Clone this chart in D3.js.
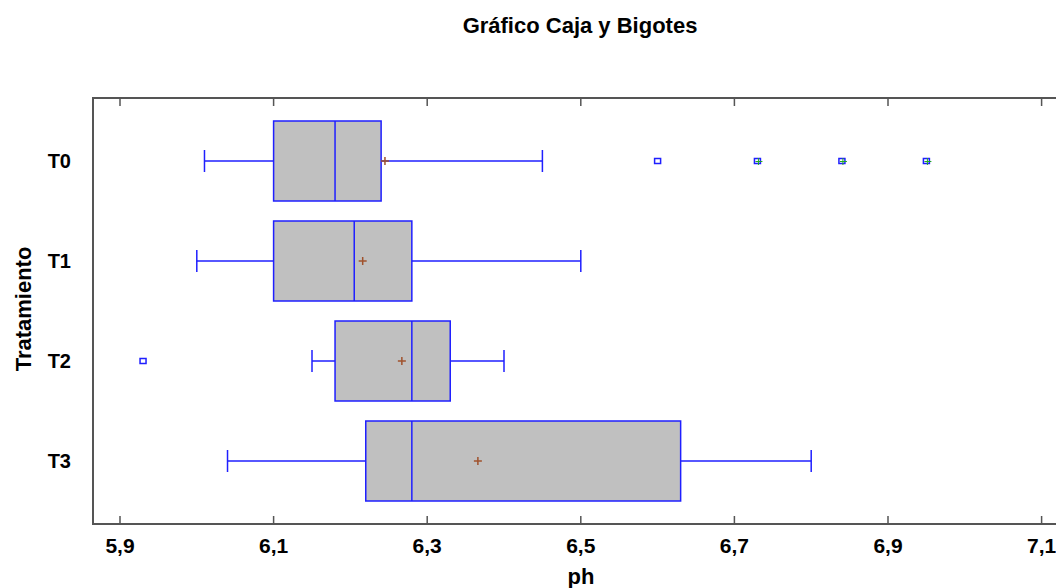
<!DOCTYPE html>
<html>
<head>
<meta charset="utf-8">
<script src="https://cdn.jsdelivr.net/npm/d3@7"></script>
<style>
body { margin: 0; background: #fff; }
svg text { font-family: "Liberation Sans", Arial, sans-serif; font-weight: bold; fill: #000; }
</style>
</head>
<body>
<svg id="chart" width="1056" height="588"></svg>
<script>
// valores
var groups = ["T0", "T1", "T2", "T3"];
var q1 = [6.10, 6.10, 6.18, 6.22];
var medians = [6.18, 6.205, 6.28, 6.28];
var q3 = [6.24, 6.28, 6.33, 6.63];
var whiskLo = [6.01, 6.00, 6.15, 6.04];
var whiskHi = [6.45, 6.50, 6.40, 6.80];
var means = [6.245, 6.216, 6.267, 6.366];
var outGroup = ["T0", "T0", "T0", "T0", "T2"];
var outValue = [6.60, 6.73, 6.84, 6.95, 5.93];
var outFar = [false, true, true, true, false];
var xTicks = [5.9, 6.1, 6.3, 6.5, 6.7, 6.9, 7.1];

var chart = {};
chart.left = 93;
chart.right = 1075;
chart.top = 98;
chart.bottom = 524;
chart.boxHeight = 80;
chart.capHeight = 22;
chart.tickLen = 8;

var svg = d3.select("#chart");

var x = d3.scaleLinear().domain([5.9, 7.1]).range([120, 1041.6]);
var y = d3.scalePoint().domain(groups).range([chart.top, chart.bottom]).padding(0.63);

var fmt = function(d){ return d3.format(".1f")(d).replace(".", ","); };

// marco
svg.append("rect")
	.attr("x", chart.left)
	.attr("y", chart.top)
	.attr("width", chart.right - chart.left)
	.attr("height", chart.bottom - chart.top)
	.style("fill", "none")
	.style("stroke", "#555")
	.style("stroke-width", 2);

// ticks abajo y arriba (hacia dentro)
svg.selectAll("line.tickb").data(xTicks).enter().append("line")
	.attr("class", "tickb")
	.attr("x1", function(d){ return x(d); })
	.attr("x2", function(d){ return x(d); })
	.attr("y1", chart.bottom)
	.attr("y2", chart.bottom - chart.tickLen)
	.style("stroke", "#555").style("stroke-width", 1.5);

svg.selectAll("line.tickt").data(xTicks).enter().append("line")
	.attr("class", "tickt")
	.attr("x1", function(d){ return x(d); })
	.attr("x2", function(d){ return x(d); })
	.attr("y1", chart.top)
	.attr("y2", chart.top + chart.tickLen)
	.style("stroke", "#555").style("stroke-width", 1.5);

svg.selectAll("text.xlab").data(xTicks).enter().append("text")
	.attr("class", "xlab")
	.attr("x", function(d){ return x(d); })
	.attr("y", 553)
	.attr("text-anchor", "middle")
	.style("font-size", "21px")
	.text(fmt);

svg.selectAll("text.ylab").data(groups).enter().append("text")
	.attr("class", "ylab")
	.attr("x", 71)
	.attr("y", function(d){ return y(d) + 7; })
	.attr("text-anchor", "end")
	.style("font-size", "20px")
	.text(function(d){ return d; });

svg.append("text")
	.attr("x", 580).attr("y", 33)
	.attr("text-anchor", "middle")
	.style("font-size", "22px")
	.text("Gráfico Caja y Bigotes");

svg.append("text")
	.attr("x", 581).attr("y", 584)
	.attr("text-anchor", "middle")
	.style("font-size", "22px")
	.text("ph");

svg.append("text")
	.attr("transform", "translate(31,309) rotate(-90)")
	.attr("text-anchor", "middle")
	.style("font-size", "22px")
	.text("Tratamiento");

// cajas
var boxes = svg.selectAll("g.box").data(groups).enter().append("g")
	.attr("class", "box")
	.attr("transform", function(d){ return "translate(0," + y(d) + ")"; });

var blue = "#1f1fff";

boxes.append("line")
	.attr("x1", function(d, i){ return x(whiskLo[i]); })
	.attr("x2", function(d, i){ return x(whiskHi[i]); })
	.attr("y1", 0).attr("y2", 0)
	.style("stroke", blue).style("stroke-width", 1.5);

boxes.append("line")
	.attr("x1", function(d, i){ return x(whiskLo[i]); })
	.attr("x2", function(d, i){ return x(whiskLo[i]); })
	.attr("y1", -chart.capHeight/2).attr("y2", chart.capHeight/2)
	.style("stroke", blue).style("stroke-width", 1.5);

boxes.append("line")
	.attr("x1", function(d, i){ return x(whiskHi[i]); })
	.attr("x2", function(d, i){ return x(whiskHi[i]); })
	.attr("y1", -chart.capHeight/2).attr("y2", chart.capHeight/2)
	.style("stroke", blue).style("stroke-width", 1.5);

boxes.append("rect")
	.attr("x", function(d, i){ return x(q1[i]); })
	.attr("y", -chart.boxHeight/2)
	.attr("width", function(d, i){ return x(q3[i]) - x(q1[i]); })
	.attr("height", chart.boxHeight)
	.style("fill", "#c0c0c0")
	.style("stroke", blue).style("stroke-width", 1.5);

boxes.append("line")
	.attr("x1", function(d, i){ return x(medians[i]); })
	.attr("x2", function(d, i){ return x(medians[i]); })
	.attr("y1", -chart.boxHeight/2).attr("y2", chart.boxHeight/2)
	.style("stroke", blue).style("stroke-width", 1.5);

// media
boxes.append("path")
	.attr("d", function(d, i){
		var mx = x(means[i]);
		return "M" + (mx-4) + ",0H" + (mx+4) + "M" + mx + ",-4V4";
	})
	.style("stroke", "#a0522d").style("stroke-width", 1.5);

// atipicos
var outs = svg.selectAll("g.out").data(outValue).enter().append("g")
	.attr("class", "out")
	.attr("transform", function(d, i){ return "translate(" + x(d) + "," + y(outGroup[i]) + ")"; });

outs.append("rect")
	.attr("x", -3).attr("y", -2.5)
	.attr("width", 6).attr("height", 5)
	.style("fill", "none")
	.style("stroke", blue).style("stroke-width", 1.5);

outs.filter(function(d, i){ return outFar[i]; }).append("path")
	.attr("d", "M-2,0.5H5M1,-3V4")
	.style("stroke", "#22aa22").style("stroke-width", 1);
</script>
</body>
</html>
